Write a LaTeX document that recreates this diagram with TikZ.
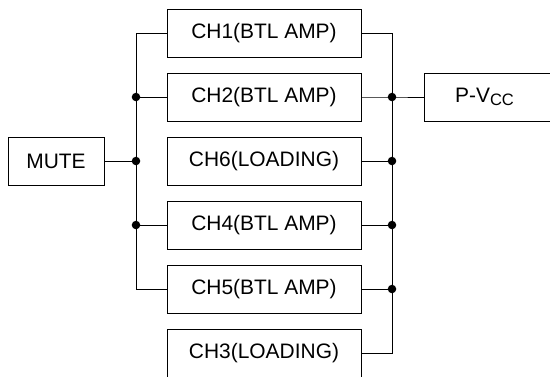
\documentclass[tikz,border=0pt]{standalone}
\usepackage{fontspec}
\setmainfont{Liberation Sans}
\tikzset{every picture/.style={line width=0.75pt}}
\tikzset{
  chbox/.style={draw, minimum width=145.5pt, minimum height=36pt, inner sep=0pt, font=\fontsize{15.7}{18}\selectfont},
  sidebox/.style={draw, minimum width=72pt, minimum height=36pt, inner sep=0pt, font=\fontsize{15.7}{18}\selectfont},
  jdot/.style={fill=black}
}

\begin{document}
\begin{tikzpicture}[x=0.75pt,y=0.75pt,yscale=-1,xscale=1]
\useasboundingbox (0,0) rectangle (550,376);
\clip (0,0) rectangle (550,376);

%Shape: Rectangle [channels]
\node [chbox] (ch1) at (264,33.5) {CH1(BTL AMP)};
\node [chbox] (ch2) at (264,97) {CH2(BTL AMP)};
\node [chbox] (ch6) at (264,161) {CH6(LOADING)};
\node [chbox] (ch4) at (264,225) {CH4(BTL AMP)};
\node [chbox] (ch5) at (264,289) {CH5(BTL AMP)};
\node [chbox] (ch3) at (264,353) {CH3(LOADING)};
%Shape: Rectangle [mute]
\node [sidebox] (mute) at (56,161) {MUTE};
%Shape: Rectangle [supply]
\node [sidebox, minimum width=99pt, anchor=west] (pvcc) at (424,97) {\hspace*{-9pt}P-V\raisebox{-2.2pt}{\fontsize{12.4}{12}\selectfont CC}};

% bus lines
\coordinate (lbus) at (136,0);
\coordinate (rbus) at (392,0);

%Straight Lines [left bus]
\draw (ch1.west) -| (lbus |- ch5.west) -- (ch5.west);
\draw (ch2.west) -- (ch2.west -| lbus);
\draw (ch4.west) -- (ch4.west -| lbus);
\draw (mute.east) -- (mute.east -| lbus);
%Straight Lines [right bus]
\draw (ch1.east) -| (rbus |- ch3.east) -- (ch3.east);
\draw (ch2.east) -- (ch2.east -| rbus) -- (pvcc.west);
\draw (ch6.east) -- (ch6.east -| rbus);
\draw (ch4.east) -- (ch4.east -| rbus);
\draw (ch5.east) -- (ch5.east -| rbus);

% junction dots
\fill [jdot] (ch2.west -| lbus) circle (3.2pt);
\fill [jdot] (mute.east -| lbus) circle (3.2pt);
\fill [jdot] (ch4.west -| lbus) circle (3.2pt);
\fill [jdot] (ch2.east -| rbus) circle (3.2pt);
\fill [jdot] (ch6.east -| rbus) circle (3.2pt);
\fill [jdot] (ch4.east -| rbus) circle (3.2pt);
\fill [jdot] (ch5.east -| rbus) circle (3.2pt);

\end{tikzpicture}
\end{document}
